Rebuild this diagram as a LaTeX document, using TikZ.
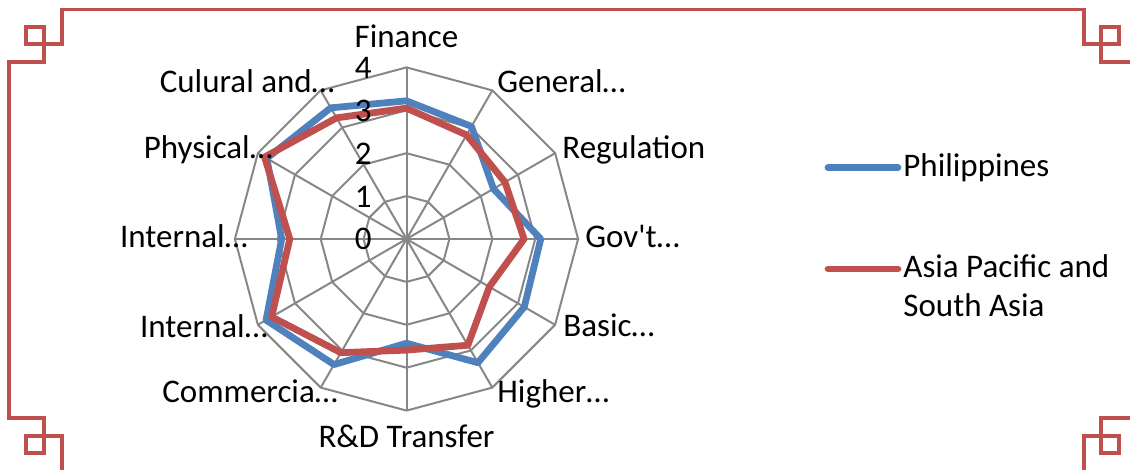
\documentclass[tikz,border=0pt]{standalone}
\usepackage{fontspec}
\setmainfont{Carlito}
\definecolor{phblue}{HTML}{4F81BD}
\definecolor{apred}{HTML}{C0504D}
\definecolor{gridgray}{HTML}{878787}
\newcommand\radunit{42.9}
\begin{document}
\begin{tikzpicture}[x=0.5pt,y=0.5pt,
  every node/.style={inner sep=0pt,font=\fontsize{16.5}{19.4}\selectfont},
  gridline/.style={gridgray,line width=1pt},
  frameline/.style={apred,line width=1.75pt},
  seriesline/.style={line width=3.4pt,line join=round,line cap=round}]
\useasboundingbox (0,0) rectangle (1130,470);
\clip (0,0) rectangle (1130,470);

% frame
\draw[frameline] (62,460.5) -- (1084,460.5) -- (1084,426) -- (1101,426) -- (1101,408) -- (1137,408)
  -- (1137,52) -- (1101,52) -- (1101,34) -- (1084,34) -- (1084,-3) -- (62,-3) -- (62,34) -- (44,34)
  -- (44,52) -- (9,52) -- (9,408) -- (44,408) -- (44,426) -- (62,426) -- cycle;
\foreach \x/\y in {26/426,1101/426,26/17,1101/17}
{
    \draw[frameline](\x,\y) rectangle ++(18,17);
}

% grid
\begin{scope}[shift={(406.5,231)}]
\foreach \k in {1,2,3,4}
{
    \draw[gridline](90:{\k*\radunit}) \foreach \a in {60,30,...,-240}{ -- (\a:{\k*\radunit})} -- cycle;
}
\foreach \a in {90,60,...,-240}
{
    \draw[gridline](0,0) -- (\a:{4*\radunit});
}

% data
\draw[seriesline,phblue](90:{3.22*\radunit}) \foreach \v [count=\i] in {3.03,2.34,3.13,3.17,3.33,2.43,3.38,3.78,2.91,3.76,3.53}
  { -- ({90-30*\i}:{\v*\radunit})} -- cycle;
\draw[seriesline,apred](90:{3.05*\radunit}) \foreach \v [count=\i] in {2.8,2.65,2.74,2.23,2.86,2.59,3.06,3.63,2.72,3.82,3.26}
  { -- ({90-30*\i}:{\v*\radunit})} -- cycle;
\end{scope}

\foreach \k in {0,1,2,3,4}
{
    \node[anchor=base east] (tick\k) at (372,220+\k*\radunit) {\k};
}

\node[anchor=base] (fin) at (406.5,422) {Finance};
\node[anchor=base west] (gen) at (497,377) {General…};
\node[anchor=base west] (reg) at (562,311) {Regulation};
\node[anchor=base west] (gov) at (585,222) {Gov\textquotesingle t…};
\node[anchor=base west] (basic) at (563,133) {Basic…};
\node[anchor=base west] (higher) at (497,67) {Higher…};
\node[anchor=base] (rnd) at (406.5,22) {R\&D Transfer};
\node[anchor=base east] (comm) at (338,67) {Commercia…};
\node[anchor=base east] (intlow) at (268,132) {Internal…};
\node[anchor=base east] (intmid) at (248,222) {Internal…};
\node[anchor=base east] (phys) at (273,311) {Physical…};
\node[anchor=base east] (cult) at (335,377) {Culural and…};

% legend
\coordinate (phL) at (828,302.3);
\coordinate (phR) at (898,302.3);
\draw[seriesline,phblue](phL) -- (phR);
\node[anchor=base west] (phtext) at (903,293.3) {Philippines};
\coordinate (apL) at (828,201);
\coordinate (apR) at (898,201);
\draw[seriesline,apred](apL) -- (apR);
\node[anchor=base west] (aptext) at (903,192) {Asia Pacific and};
\node[anchor=base west] (aptextb) at ([yshift=-19.35pt]aptext.base west) {South Asia};

\end{tikzpicture}
\end{document}
